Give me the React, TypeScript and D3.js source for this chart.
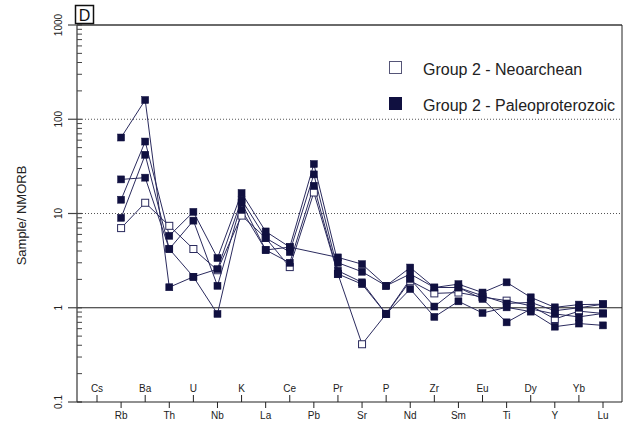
import React from "react";
import * as d3 from "d3";

// Trace elements along the x axis (upper row labels alternate with lower row)
const elements = ["Cs", "Rb", "Ba", "Th", "U", "Nb", "K", "La", "Ce", "Pb", "Pr", "Sr", "P", "Nd", "Zr", "Sm", "Eu", "Ti", "Dy", "Y", "Yb", "Lu"];

// NMORB-normalised values per sample (null = not analysed)
const neoarchean1 = [null, 7, 13, 7.4, 4.2, 2.5, 9.5, 5.5, 2.7, 16.7, 2.28, 0.41, 0.86, 1.93, 1.42, 1.45, 1.3, 1.19, 1.05, 0.76, 0.92, 0.87];
const paleo1 = [null, 64, 160, 1.65, 2.13, 2.57, 14, 5.5, 3.9, 26, 2.47, 1.86, 0.86, 2.02, 1.03, 1.64, 1.24, 0.7, 0.97, 0.86, 0.8, 0.87];
const paleo2 = [null, 23, 24, 4.2, 2.13, 0.86, 10.9, 4.1, 4.4, null, 3.42, 2.9, 1.71, 2.67, 1.64, 1.64, 1.34, 1.11, 1.14, 0.93, 1.0, 1.09];
const paleo3 = [null, 14, 58, 5.8, 10.4, 3.37, 16.5, 6.45, 4.4, 33.5, 3.0, 2.41, 1.71, 2.28, 1.64, 1.78, 1.45, 1.86, 1.29, 1.01, 1.08, 1.09];
const paleo4 = [null, 9, 42, 4.2, 8.4, 1.71, 13, 4.1, 3.0, 19.7, 2.28, 1.78, 0.86, 1.58, 0.8, 1.17, 0.88, 1.01, 0.91, 0.63, 0.68, 0.65];

const openSeries = [neoarchean1];
const filledSeries = [paleo1, paleo2, paleo3, paleo4];

const yMajorTicks = [0.1, 1, 10, 100, 1000];
const yTickLabels = ["0.1", "1", "10", "100", "1000"];

const legendLabels = ["Group 2 - Neoarchean", "Group 2 - Paleoproterozoic"];

const W = 626;
const H = 422;
const left = 77;
const right = 622;
const top = 25;
const bottom = 402;

const navy = "#101040";
const lineCol = "#2b2b5e";
const font = "'Liberation Sans', Arial, sans-serif";

export default function App() {
  const x = d3.scalePoint<string>().domain(elements).range([97, 603]);
  const y = d3.scaleLog().domain([0.1, 1000]).range([bottom, top]);

  const line = d3
    .line<{ e: string; v: number }>()
    .x((d) => x(d.e) as number)
    .y((d) => y(d.v));

  const pts = (s: (number | null)[]) =>
    s
      .map((v, i) => ({ e: elements[i], v: v as number }))
      .filter((d) => d.v != null);

  const minor: number[] = [];
  for (let dec = 0.1; dec < 1000; dec *= 10) {
    for (let k = 2; k <= 9; k++) minor.push(dec * k);
  }

  const ms = 7;

  return (
    <svg width={W} height={H} style={{ position: "absolute", left: 0, top: 0, background: "#fff" }}>
      <rect x={0} y={0} width={W} height={H} fill="#fff" />

      {/* reference lines */}
      {[10, 100].map((v) => (
        <line key={v} x1={82} x2={right} y1={y(v)} y2={y(v)} stroke="#555" strokeWidth={1} strokeDasharray="1,2" />
      ))}
      <line x1={left} x2={right} y1={y(1)} y2={y(1)} stroke="#222" strokeWidth={1} />
      <line x1={left} x2={right} y1={y(1000)} y2={y(1000)} stroke="#6a6a6a" strokeWidth={2} />
      <line x1={right} x2={right} y1={top} y2={bottom} stroke="#222" strokeWidth={1} />

      {/* y axis */}
      <line x1={left} x2={left} y1={top} y2={bottom} stroke="#444" strokeWidth={1.3} />
      {minor.map((v, i) => (
        <line key={i} x1={left} x2={left + 5} y1={y(v)} y2={y(v)} stroke="#444" strokeWidth={1} />
      ))}
      {yMajorTicks.map((v, i) => (
        <g key={v}>
          <line x1={68} x2={82} y1={y(v)} y2={y(v)} stroke="#444" strokeWidth={1.2} />
          <text
            transform={`translate(62,${y(v)}) rotate(-90)`}
            textAnchor="middle"
            fontFamily={font}
            fontSize={10}
            fill="#222"
          >
            {yTickLabels[i]}
          </text>
        </g>
      ))}
      <text
        transform={`translate(26,${(top + bottom) / 2 + 2}) rotate(-90)`}
        textAnchor="middle"
        fontFamily={font}
        fontSize={13}
        fill="#222"
      >
        Sample/ NMORB
      </text>

      {/* x axis */}
      <line x1={left} x2={right} y1={bottom} y2={bottom} stroke="#222" strokeWidth={1.2} />
      {elements.map((e, i) => {
        const up = i % 2 === 0;
        const xx = x(e) as number;
        return (
          <g key={e}>
            <line x1={xx} x2={xx} y1={up ? bottom - 7 : bottom} y2={up ? bottom : bottom + 6} stroke="#222" strokeWidth={1} />
            <text x={xx} y={up ? 392 : 419} textAnchor="middle" fontFamily={font} fontSize={10} fill="#222">
              {e}
            </text>
          </g>
        );
      })}

      {/* panel letter */}
      <rect x={75.5} y={5.5} width={18} height={18} fill="#fff" stroke="#111" strokeWidth={1.5} />
      <text x={84.5} y={20.5} textAnchor="middle" fontFamily={font} fontSize={16} fill="#111">
        D
      </text>

      {/* series */}
      {[...openSeries, ...filledSeries].map((s, i) => (
        <path key={i} d={line(pts(s)) || ""} fill="none" stroke={lineCol} strokeWidth={1} />
      ))}
      {openSeries.map((s, i) =>
        pts(s).map((d, j) => (
          <rect
            key={`o${i}-${j}`}
            x={(x(d.e) as number) - ms / 2}
            y={y(d.v) - ms / 2}
            width={ms}
            height={ms}
            fill="#fff"
            stroke={lineCol}
            strokeWidth={1}
          />
        ))
      )}
      {filledSeries.map((s, i) =>
        pts(s).map((d, j) => (
          <rect
            key={`f${i}-${j}`}
            x={(x(d.e) as number) - ms / 2}
            y={y(d.v) - ms / 2}
            width={ms}
            height={ms}
            fill={navy}
            stroke={navy}
            strokeWidth={0.5}
          />
        ))
      )}

      {/* legend */}
      <rect x={389.5} y={61.5} width={12} height={12} fill="#fff" stroke="#555577" strokeWidth={1} />
      <text x={423} y={75} fontFamily={font} fontSize={16} fill="#222">
        {legendLabels[0]}
      </text>
      <rect x={389} y={97} width={13} height={13} fill={navy} />
      <text x={423} y={110.5} fontFamily={font} fontSize={16} fill="#222">
        {legendLabels[1]}
      </text>
    </svg>
  );
}
